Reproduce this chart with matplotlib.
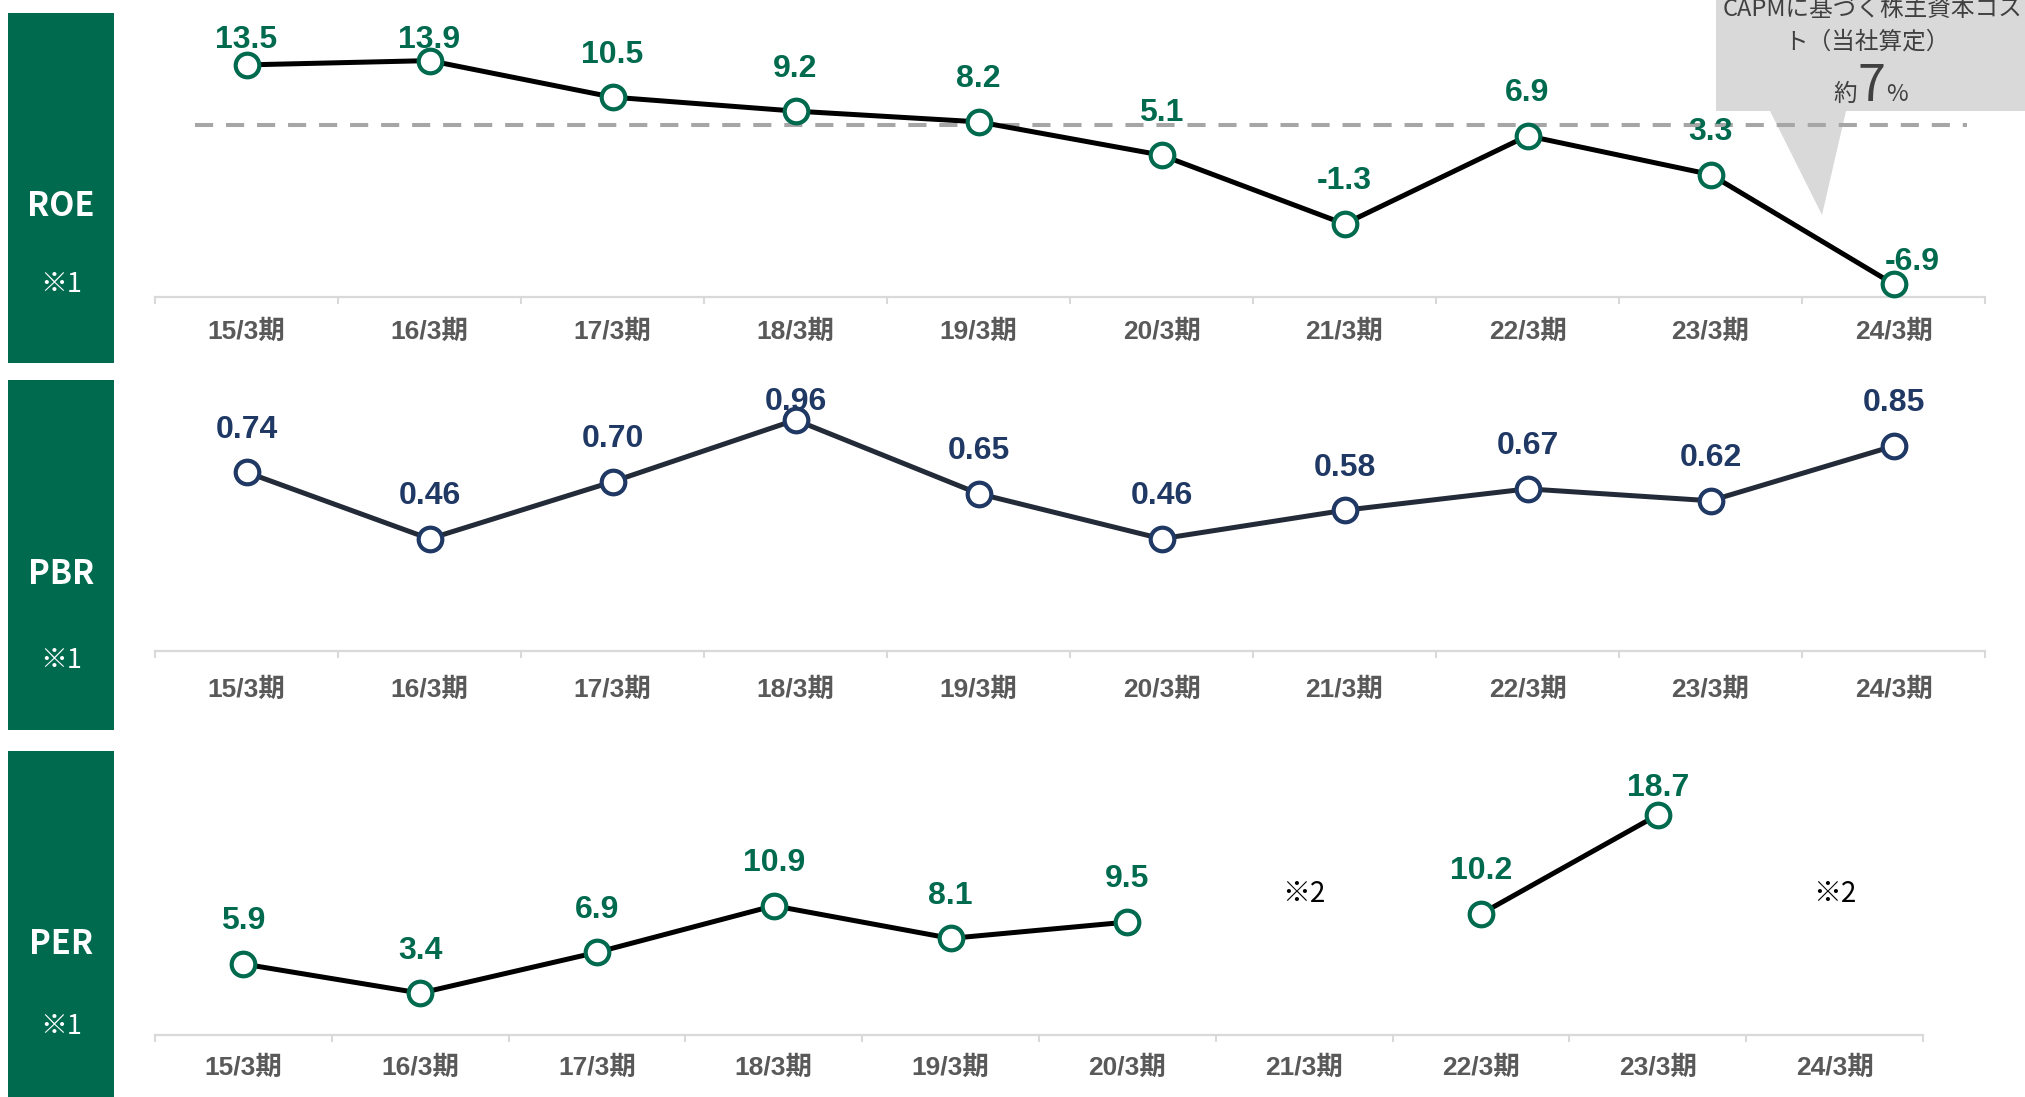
import matplotlib
matplotlib.use('Agg')
import matplotlib.pyplot as plt
import matplotlib.transforms as mtransforms
from matplotlib.patches import Rectangle, Polygon
import numpy as np

# ---------------- data ----------------
periods = ['15/3期', '16/3期', '17/3期', '18/3期', '19/3期',
           '20/3期', '21/3期', '22/3期', '23/3期', '24/3期']
roe = [13.5, 13.9, 10.5, 9.2, 8.2, 5.1, -1.3, 6.9, 3.3, -6.9]
pbr = [0.74, 0.46, 0.70, 0.96, 0.65, 0.46, 0.58, 0.67, 0.62, 0.85]
per = [5.9, 3.4, 6.9, 10.9, 8.1, 9.5, None, 10.2, 18.7, None]
panel_names = ['ROE', 'PBR', 'PER']
panel_notes = ['※1', '※1', '※1']
per_missing_note = '※2'
capm_level = 7.9
capm_text_1 = 'CAPMに基づく株主資本コス'
capm_text_2 = 'ト（当社算定）'
capm_pre, capm_num, capm_post = '約', '7', '%'

# ---------------- style / layout ----------------
W, H = 2025, 1097
GREEN = '#006A4E'
NAVY = '#1F3864'
PBR_LINE = '#232B38'
GRAY_AX = '#D9D9D9'
TICK_TXT = '#595959'
CALL_TXT = '#404040'
CJK = 'Noto Sans CJK JP'
plt.rcParams['font.family'] = ['Liberation Sans', CJK, 'DejaVu Sans']

fig = plt.figure(figsize=(W / 100, H / 100), dpi=100)


def frac(l, t, r, b):
    return [l / W, 1 - b / H, (r - l) / W, (b - t) / H]


# overlay in pixel coordinates for boxes and callout
ov = fig.add_axes([0, 0, 1, 1])
ov.set_xlim(0, W)
ov.set_ylim(H, 0)
ov.axis('off')
ov.set_zorder(0)

boxes = [(8, 13, 114, 363), (8, 380, 114, 730), (8, 751, 114, 1100)]
name_y = [207, 574, 945]
note_y = [285, 660, 1027]
for (l, t, r, b), nm, nt, ny, ty in zip(boxes, panel_names, panel_notes, name_y, note_y):
    ov.add_patch(Rectangle((l, t), r - l, b - t, facecolor=GREEN, edgecolor='none'))
    ov.text((l + r) / 2, ny, nm, color='white', fontsize=23.5, fontweight='bold',
            ha='center', va='center', family=[CJK])
    ov.text((l + r) / 2, ty, nt, color='white', fontsize=19.5,
            ha='center', va='center', family=[CJK])

# callout
call = Polygon([(1716, -5), (2035, -5), (2035, 111), (1846, 111), (1822, 215),
                (1770, 111), (1716, 111)], closed=True, facecolor='#D9D9D9',
               edgecolor='none')
ov.add_patch(call)
ov.text(1873, 9, capm_text_1, color=CALL_TXT, fontsize=17, ha='center',
        va='center', family=[CJK])
ov.text(1867, 42, capm_text_2, color=CALL_TXT, fontsize=17, ha='center',
        va='center', family=[CJK])
ov.text(1857, 101, capm_pre, color=CALL_TXT, fontsize=17, ha='right',
        va='baseline', family=[CJK])
ov.text(1871, 101, capm_num, color=CALL_TXT, fontsize=36, ha='center',
        va='baseline', family=[CJK])
ov.text(1886, 101, capm_post, color=CALL_TXT, fontsize=17, ha='left',
        va='baseline', family=[CJK])

panels = [
    dict(vals=roe, rect=(155, 0, 1985, 297), ylim=(-8.1, 19.54), cap=40,
         fmt='{:.1f}', line='#000000', mec=GREEN, lab=GREEN, pad=16.3),
    dict(vals=pbr, rect=(155, 370, 1985, 651), ylim=(-0.012, 1.17), cap=402,
         fmt='{:.2f}', line=PBR_LINE, mec=NAVY, lab=NAVY, pad=19.2),
    dict(vals=per, rect=(155, 749, 1923, 1034.5), ylim=(-0.15, 24.35), cap=788,
         fmt='{:.1f}', line='#000000', mec=GREEN, lab=GREEN, pad=14.9),
]
special_offsets = {(0, 9): (19, 22)}
LABEL_OFF = 42.6

for pi, p in enumerate(panels):
    ax = fig.add_axes(frac(*p['rect']))
    ax.set_zorder(1)
    ax.set_facecolor('none')
    n = len(periods)
    ax.set_xlim(-0.5, n - 0.5)
    ax.set_ylim(*p['ylim'])
    for s in ['top', 'left', 'right']:
        ax.spines[s].set_visible(False)
    ax.spines['bottom'].set_color(GRAY_AX)
    ax.spines['bottom'].set_linewidth(1.6)
    ax.set_yticks([])
    ax.set_xticks(np.arange(n))
    ax.set_xticklabels(periods, fontsize=19, fontweight='bold', color=TICK_TXT)
    ax.tick_params(axis='x', which='major', length=0, pad=p['pad'])
    ax.set_xticks(np.arange(n + 1) - 0.5, minor=True)
    ax.tick_params(axis='x', which='minor', length=5, width=1.5, color=GRAY_AX,
                   direction='out')

    vals = np.array([np.nan if v is None else v for v in p['vals']], dtype=float)
    x = np.arange(n)
    if pi == 0:
        ax.plot([-0.28, 9.4], [capm_level, capm_level], color='#A6A6A6', lw=2.9,
                ls=(0, (4.5, 3.2)), zorder=2)
    ax.plot(x, vals, color=p['line'], lw=3.6, marker='o', ms=17, mfc='white',
            mec=p['mec'], mew=3, zorder=3, clip_on=False,
            solid_capstyle='round')

    inv = ax.transData.inverted()
    cap_px = H - p['cap']
    for i, v in enumerate(p['vals']):
        if v is None:
            continue
        px, py = ax.transData.transform((i, v))
        if (pi, i) in special_offsets:
            dx, dy = special_offsets[(pi, i)]
            lx, ly = px + dx, py + dy
        else:
            lx, ly = px, min(py + LABEL_OFF, cap_px)
        dxd, dyd = inv.transform((lx, ly))
        ax.text(dxd, dyd, p['fmt'].format(v), color=p['lab'], fontsize=23,
                fontweight='bold', ha='center', va='center', zorder=4,
                clip_on=False)

    if pi == 2:
        trans = mtransforms.blended_transform_factory(ax.transData, ax.transAxes)
        for i, v in enumerate(p['vals']):
            if v is None:
                ax.text(i, 0.492, per_missing_note, transform=trans, fontsize=20,
                        color='black', ha='center', va='center', family=[CJK])

fig.savefig('out.png', dpi=100)
